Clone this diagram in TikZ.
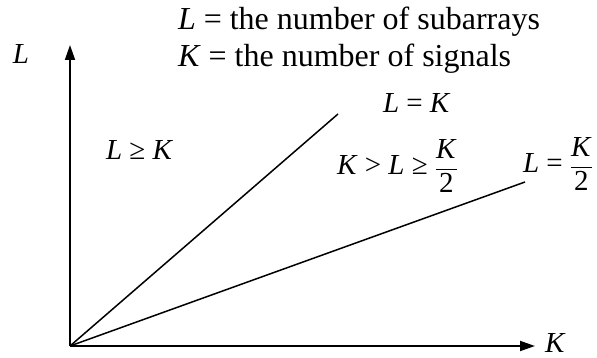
\documentclass[tikz,border=0pt]{standalone}
\usepackage{fontspec}
\setmainfont{Liberation Serif}
\usetikzlibrary{arrows.meta}
\newcommand{\hfr}[2]{$\displaystyle\frac{\hbox{#1}}{\hbox{#2}}$}
\begin{document}
\begin{tikzpicture}[x=1pt,y=1pt,
  lbl/.style={inner sep=0pt,outer sep=0pt,font=\fontsize{29}{34}\selectfont},
  ttl/.style={inner sep=0pt,outer sep=0pt,font=\fontsize{32}{38}\selectfont},
  axis/.style={line width=1.8pt,-{Triangle[length=15pt,width=10pt]}},
  ray/.style={line width=1.5pt}]
\useasboundingbox (0,0) rectangle (597,358);
\coordinate (O) at (70,12);
\coordinate (ytip) at (70,313);
\coordinate (xtip) at (535,12);
\coordinate (e1) at (338,244);
\coordinate (e2) at (525,176);
\draw[axis] (O) -- (ytip);
\draw[axis] (O) -- (xtip);
\draw[ray] (O) -- (e1);
\draw[ray] (O) -- (e2);
\node[lbl] (ylab) at (21,304) {\textit{L}};
\node[lbl,anchor=base west] (xlab) at (545,5) {\textit{K}};
\node[ttl,anchor=base west] (t1) at (178,328) {\textit{L} = the number of subarrays};
\node[ttl,anchor=base west] (t2) at (178,291) {\textit{K} = the number of signals};
\node[lbl,anchor=base west] (r1) at (106,198) {\textit{L} ≥ \textit{K}};
\node[lbl,anchor=base west] (b1) at (383,245) {\textit{L} = \textit{K}};
\node[lbl,anchor=base west] (r2) at (337,183) {\textit{K} > \textit{L} ≥ \hfr{\textit{K}}{2}};
\node[lbl,anchor=base west] (b2) at (523,185) {\textit{L} = \hfr{\textit{K}}{2}};
\end{tikzpicture}
\end{document}
